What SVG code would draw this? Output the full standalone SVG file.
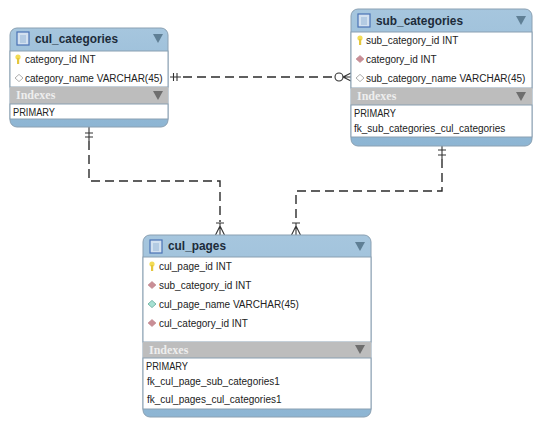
<svg xmlns="http://www.w3.org/2000/svg" width="540" height="426" viewBox="0 0 540 426">
<defs>
<linearGradient id="hd" x1="0" y1="0" x2="0" y2="1"><stop offset="0" stop-color="#a6c6de"/><stop offset="1" stop-color="#8db5d3"/></linearGradient>
<g id="tblicon"><rect x="0" y="0" width="12" height="13" fill="#d3e1f0" stroke="#4a72b5" stroke-width="1.2"/><rect x="3" y="3" width="6" height="8" fill="#b4cbe3"/></g>
<path id="tri" d="M0 0H10L5 9Z" fill="#5f7f95"/>
<path id="trig" d="M0 0H10L5 9Z" fill="#6e6e6e"/>
<g id="key"><circle cx="0" cy="-2" r="2.6" fill="#f3dc55"/><rect x="-1" y="-1" width="2.2" height="6" fill="#e4c63c"/></g>
<path id="fk" d="M-4 0L0-3.6L4 0L0 3.6Z" fill="#c98e96" stroke="#b67a82" stroke-width=".5"/>
<path id="dm" d="M-4 0L0-3.6L4 0L0 3.6Z" fill="#fff" stroke="#9a9a9a" stroke-width=".8"/>
<path id="nn" d="M-4 0L0-3.6L4 0L0 3.6Z" fill="#a6e0d2" stroke="#63a99a" stroke-width=".8"/>
</defs>
<style>
text{font-family:"Liberation Sans",Arial,sans-serif;fill:#222}
.t{font-size:10px}
.h{font-size:13px;font-weight:bold;fill:#1c2b3a}
.i{font-family:"Liberation Serif","Times New Roman",serif;font-size:12px;font-weight:bold;fill:#eeeeee}
.box{fill:#fff;stroke:#8aa0b2;stroke-width:1}
.band{fill:#bdbdbd}
.c{fill:none;stroke:#2b2b2b;stroke-width:1.4;stroke-dasharray:9 5}
.s{fill:none;stroke:#333;stroke-width:1.1}
</style>
<rect width="540" height="426" fill="#fff"/>
<g id="connectors">
<path class="c" d="M183 77H332"/>
<path class="c" d="M89 141V181H220V222"/>
<path class="c" d="M442 159V191H296V222"/>
<path class="s" d="M173.500 73V81M177 73V81M170 77H181"/>
<circle class="s" cx="339" cy="77" r="4" fill="#fff"/>
<path class="s" d="M343 77L351 73M343 77L351 81M343 77H351"/>
<path class="s" d="M85 133H93M85 137H93M89 127V141"/>
<path class="s" d="M438 150H446M438 155H446M442 146V159"/>
<path class="s" d="M216 223H224M220 223V235M220 226L215.500 235M220 226L224.500 235"/>
<path class="s" d="M292 223H300M296 223V235M296 226L291.500 235M296 226L300.500 235"/>
</g>
<g id="cul_categories">
<rect x="10" y="28" width="158" height="99" rx="7" fill="url(#hd)" stroke="#8aa0b2"/>
<rect class="box" x="10" y="51" width="158" height="36"/>
<rect class="band" x="10" y="87" width="158" height="17"/>
<rect class="box" x="10" y="104" width="158" height="15"/>
<use href="#tblicon" x="17" y="32"/>
<text class="h" x="35" y="43" textLength="83" lengthAdjust="spacingAndGlyphs">cul_categories</text>
<use href="#tri" x="153" y="34"/>
<use href="#key" x="18" y="59"/>
<text class="t" x="25" y="63">category_id INT</text>
<use href="#dm" x="19" y="78"/>
<text class="t" x="25" y="82">category_name VARCHAR(45)</text>
<text class="i" x="16" y="99">Indexes</text>
<use href="#trig" x="153" y="91"/>
<text class="t" x="13" y="116" textLength="42" lengthAdjust="spacingAndGlyphs">PRIMARY</text>
</g>
<g id="sub_categories">
<rect x="351" y="9" width="181" height="137" rx="7" fill="url(#hd)" stroke="#8aa0b2"/>
<rect class="box" x="351" y="32" width="181" height="56"/>
<rect class="band" x="351" y="88" width="181" height="17"/>
<rect class="box" x="351" y="105" width="181" height="32"/>
<use href="#tblicon" x="358" y="14"/>
<text class="h" x="376" y="25" textLength="87" lengthAdjust="spacingAndGlyphs">sub_categories</text>
<use href="#tri" x="516" y="16"/>
<use href="#key" x="360" y="40"/>
<text class="t" x="366" y="44">sub_category_id INT</text>
<use href="#fk" x="360" y="59"/>
<text class="t" x="366" y="63">category_id INT</text>
<use href="#dm" x="360" y="78"/>
<text class="t" x="366" y="82">sub_category_name VARCHAR(45)</text>
<text class="i" x="357" y="100">Indexes</text>
<use href="#trig" x="516" y="92"/>
<text class="t" x="354" y="117" textLength="42" lengthAdjust="spacingAndGlyphs">PRIMARY</text>
<text class="t" x="354" y="132">fk_sub_categories_cul_categories</text>
</g>
<g id="cul_pages">
<rect x="143" y="235" width="228" height="182" rx="7" fill="url(#hd)" stroke="#8aa0b2"/>
<rect class="box" x="143" y="257" width="228" height="85"/>
<rect class="band" x="143" y="342" width="228" height="16"/>
<rect class="box" x="143" y="358" width="228" height="51"/>
<use href="#tblicon" x="150" y="240"/>
<text class="h" x="168" y="250" textLength="58" lengthAdjust="spacingAndGlyphs">cul_pages</text>
<use href="#tri" x="355" y="242"/>
<use href="#key" x="152" y="266"/>
<text class="t" x="159" y="270">cul_page_id INT</text>
<use href="#fk" x="152" y="285"/>
<text class="t" x="159" y="289">sub_category_id INT</text>
<use href="#nn" x="152" y="304"/>
<text class="t" x="159" y="308">cul_page_name VARCHAR(45)</text>
<use href="#fk" x="152" y="323"/>
<text class="t" x="159" y="327">cul_category_id INT</text>
<text class="i" x="149" y="354">Indexes</text>
<use href="#trig" x="355" y="345"/>
<text class="t" x="146" y="370" textLength="42" lengthAdjust="spacingAndGlyphs">PRIMARY</text>
<text class="t" x="147" y="385">fk_cul_page_sub_categories1</text>
<text class="t" x="147" y="403">fk_cul_pages_cul_categories1</text>
</g>
</svg>
